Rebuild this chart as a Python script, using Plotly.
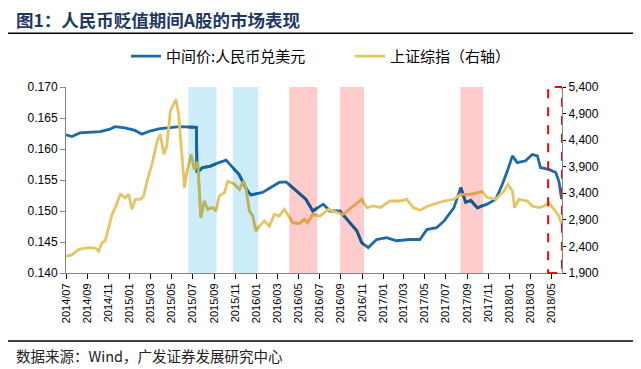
import plotly.graph_objects as go
import pandas as pd

# ---------------- data ----------------
cny_dates = ["2014-07-01","2014-07-18","2014-08-10","2014-09-14","2014-10-07","2014-11-05","2014-11-19","2014-12-18",
             "2015-01-16","2015-02-05","2015-02-28","2015-03-29","2015-04-27","2015-05-26","2015-07-12","2015-07-14",
             "2015-07-30","2015-08-20","2015-09-15","2015-10-06","2015-10-25","2015-11-12","2015-12-07","2015-12-17",
             "2016-01-19","2016-02-17","2016-03-07","2016-03-27","2016-04-04","2016-05-03","2016-05-23","2016-06-12",
             "2016-07-12","2016-08-01","2016-08-29","2016-09-18","2016-10-17","2016-10-31","2016-11-19","2016-12-13",
             "2017-01-11","2017-02-09","2017-03-19","2017-04-17","2017-05-07","2017-06-04","2017-06-26","2017-07-24",
             "2017-08-13","2017-08-27","2017-09-11","2017-09-30","2017-10-28","2017-11-22","2017-12-11","2017-12-25",
             "2018-01-09","2018-01-23","2018-02-16","2018-03-07","2018-03-22","2018-03-31","2018-04-24","2018-05-14",
             "2018-05-23","2018-05-31"]
cny_values = [0.1623,0.1620,0.1626,0.1627,0.1628,0.1632,0.1636,0.1634,
              0.1630,0.1624,0.1629,0.1633,0.1635,0.1636,0.1635,0.1562,
              0.1570,0.1572,0.1578,0.1582,0.1570,0.1559,0.1532,0.1526,
              0.1530,0.1540,0.1546,0.1547,0.1543,0.1530,0.1519,0.1500,
              0.1511,0.1500,0.1500,0.1487,0.1468,0.1449,0.1441,0.1454,
              0.1457,0.1452,0.1454,0.1454,0.1470,0.1473,0.1484,0.1505,
              0.1538,0.1514,0.1517,0.1505,0.1511,0.1519,0.1543,0.1564,
              0.1589,0.1578,0.1581,0.1591,0.1589,0.1570,0.1567,0.1562,
              0.1548,0.1519]

sh_dates = ["2014-07-01","2014-07-18","2014-08-07","2014-09-04","2014-09-24","2014-10-03","2014-10-13","2014-10-22",
            "2014-11-01","2014-11-11","2014-11-20","2014-12-05","2014-12-19","2014-12-29","2015-01-07","2015-01-17",
            "2015-01-31","2015-02-10","2015-02-20","2015-03-06","2015-03-21","2015-03-30","2015-04-09","2015-04-18",
            "2015-04-28","2015-05-14","2015-05-22","2015-05-30","2015-06-08","2015-06-15","2015-06-27","2015-07-06",
            "2015-07-16","2015-07-25","2015-08-04","2015-08-14","2015-08-28","2015-09-07","2015-09-16","2015-10-01",
            "2015-10-11","2015-10-30","2015-11-13","2015-11-25","2015-12-02","2015-12-12","2015-12-22","2015-12-31",
            "2016-01-10","2016-01-24","2016-02-08","2016-02-22","2016-03-07","2016-03-22","2016-04-05","2016-04-15",
            "2016-05-04","2016-05-19","2016-05-28","2016-06-12","2016-07-03","2016-07-27","2016-08-20","2016-09-08",
            "2016-10-07","2016-10-31","2016-11-15","2016-12-04","2016-12-23","2017-01-21","2017-02-19","2017-03-10",
            "2017-03-29","2017-04-17","2017-05-11","2017-06-09","2017-06-26","2017-07-24","2017-08-13","2017-09-11",
            "2017-10-14","2017-10-28","2017-11-22","2017-12-16","2017-12-27","2018-01-09","2018-01-15","2018-01-28",
            "2018-02-21","2018-03-07","2018-03-27","2018-04-10","2018-04-24","2018-05-09","2018-05-23","2018-05-31"]
sh_values = [2214,2239,2346,2378,2370,2314,2472,2502,
             2754,3005,3131,3381,3319,3381,3099,3287,
             3287,3349,3631,3946,4384,4510,4134,4290,
             4948,5169,4886,4196,3507,3819,4134,3851,
             3996,2942,3255,3099,3131,3067,3349,3413,
             3631,3569,3475,3631,3507,3067,2972,2690,
             2784,2878,2784,3005,2972,3099,2942,2848,
             2830,2910,2848,3005,2972,3099,3036,3005,
             3161,3287,3131,3161,3131,3255,3255,3287,
             3131,3080,3161,3224,3255,3287,3381,3381,
             3431,3319,3287,3443,3569,3443,3131,3287,
             3255,3161,3131,3161,3224,3099,2972,2817]

blue_band_periods = [("2015-06-19", "2015-09-08"), ("2015-10-25", "2016-01-07")]
red_band_periods = [("2016-04-05", "2016-06-25"), ("2016-08-30", "2016-11-07"), ("2017-08-12", "2017-10-16")]
highlight_start = "2018-04-22"

x_range = ["2014-07-01", "2018-06-01"]
y_left_range = [0.140, 0.170]
y_right_range = [1900, 5400]

cny_name = "中间价:人民币兑美元"
sh_name = "上证综指（右轴）"
title_text = "图1：人民币贬值期间A股的市场表现"
source_text = "数据来源：Wind，广发证券发展研究中心"

# ---------------- style ----------------
BLUE = (27, 107, 168)
YELLOW = (230, 196, 97)
CYAN = (204, 236, 249)
PINK = (255, 204, 204)
LW = 2.8
TICK_FONT = dict(family="Liberation Sans, Arial", size=12, color="black")
CJK = "Noto Sans CJK SC"

# the page body adds an 8px offset, so the figure is 8px smaller on each side
FIG_W, FIG_H = 633, 361


def rgb(c):
    return "rgb(%d,%d,%d)" % c


def multiply(a, b):
    return tuple(round(x * y / 255) for x, y in zip(a, b))


fig = go.Figure()
fig.add_trace(go.Scatter(x=cny_dates, y=cny_values, name=cny_name, mode="lines",
                         line=dict(color=rgb(BLUE), width=LW), xaxis="x", yaxis="y"))
fig.add_trace(go.Scatter(x=sh_dates, y=sh_values, name=sh_name, mode="lines",
                         line=dict(color=rgb(YELLOW), width=LW), xaxis="x", yaxis="y2"))

t0 = pd.Timestamp(x_range[0])
t1 = pd.Timestamp(x_range[1])
span = (t1 - t0).total_seconds()

bands = [(s, e, CYAN) for s, e in blue_band_periods] + [(s, e, PINK) for s, e in red_band_periods]
extra_axes = {}
for i, (s, e, col) in enumerate(bands):
    n = i + 3
    fig.add_shape(type="rect", xref="x", yref="paper", x0=s, x1=e, y0=0, y1=1,
                  fillcolor=rgb(col), line_width=0, layer="below")
    d0 = (pd.Timestamp(s) - t0).total_seconds() / span
    d1 = (pd.Timestamp(e) - t0).total_seconds() / span
    extra_axes["xaxis%d" % n] = dict(domain=[d0, d1], range=[s, e], type="date",
                                     visible=False, anchor="y", showgrid=False, zeroline=False)
    # lines seen through the band (multiply blend)
    fig.add_trace(go.Scatter(x=cny_dates, y=cny_values, mode="lines", showlegend=False, hoverinfo="skip",
                             line=dict(color=rgb(multiply(BLUE, col)), width=LW),
                             xaxis="x%d" % n, yaxis="y"))
    fig.add_trace(go.Scatter(x=sh_dates, y=sh_values, mode="lines", showlegend=False, hoverinfo="skip",
                             line=dict(color=rgb(multiply(YELLOW, col)), width=LW),
                             xaxis="x%d" % n, yaxis="y2"))

# red dashed highlight box
fig.add_shape(type="rect", xref="x", yref="paper", x0=highlight_start, x1=x_range[1], y0=0, y1=1,
              line=dict(color="red", width=2, dash="dash"), fillcolor="rgba(0,0,0,0)", layer="above")

# title rule and footer rule
fig.add_shape(type="line", xref="paper", yref="paper", x0=-0.117, x1=1.16, y0=1.289, y1=1.289,
              line=dict(color="black", width=1.5))
fig.add_shape(type="line", xref="paper", yref="paper", x0=-0.117, x1=1.16, y0=-0.366, y1=-0.366,
              line=dict(color="black", width=1.5))

fig.add_annotation(text=source_text, xref="paper", yref="paper", x=-0.105, y=-0.441,
                   xanchor="left", yanchor="middle", showarrow=False,
                   font=dict(family=CJK, size=14.5, color="#222222"))

fig.update_layout(
    width=FIG_W, height=FIG_H,
    margin=dict(l=58, r=79, t=79, b=96),
    paper_bgcolor="white", plot_bgcolor="rgba(0,0,0,0)",
    title=dict(text="<b>" + title_text + "</b>", xref="container", yref="container",
               x=8 / FIG_W, y=1 - 13 / FIG_H, xanchor="left", yanchor="middle",
               font=dict(family=CJK, size=17.5, color="#1F3864")),
    showlegend=True,
    legend=dict(orientation="h", x=0.121, y=1.165, xanchor="left", yanchor="middle",
                font=dict(family=CJK, size=15, color="black"), itemwidth=30,
                entrywidth=179, entrywidthmode="pixels", bgcolor="rgba(0,0,0,0)"),
    xaxis=dict(type="date", range=x_range, tickformat="%Y/%m", dtick="M2", tick0="2014-07-01",
               tickangle=-90, ticks="outside", ticklen=5, tickcolor="black",
               tickfont=dict(family="Liberation Sans, Arial", size=11, color="black"),
               showline=True, linecolor="#868686", linewidth=1, showgrid=False, zeroline=False,
               domain=[0, 1]),
    yaxis=dict(range=y_left_range, dtick=0.005, tick0=0.14, tickformat=".3f",
               ticks="outside", ticklen=5, tickcolor="#868686", tickfont=TICK_FONT,
               showline=True, linecolor="#868686", linewidth=1, showgrid=False, zeroline=False),
    yaxis2=dict(range=y_right_range, dtick=500, tick0=1900, tickformat=",d", overlaying="y", side="right",
                anchor="x", ticks="outside", ticklen=3, tickcolor="black", tickfont=TICK_FONT,
                showline=True, linecolor="#868686", linewidth=1, showgrid=False, zeroline=False),
    **extra_axes,
)

fig.write_html("out.html")
